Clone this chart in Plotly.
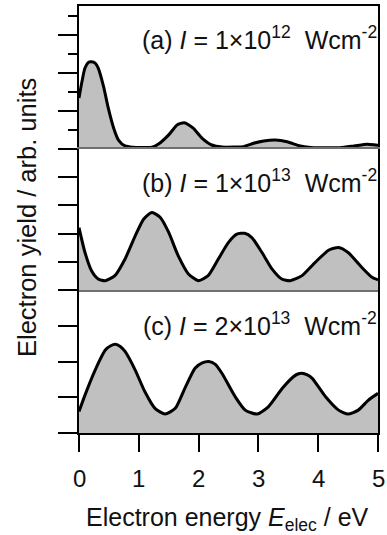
import plotly.graph_objects as go
from plotly.subplots import make_subplots

# ---- data ----
energy_a = [0.0, 0.045, 0.1, 0.16, 0.21, 0.27, 0.32, 0.41, 0.49, 0.58, 0.66, 0.77, 0.9, 1.05, 1.22, 1.33, 1.5, 1.64,
            1.76, 1.91, 2.06, 2.22, 2.39, 2.6, 2.75, 2.92, 3.09, 3.28, 3.48, 3.7, 3.92, 4.15, 4.37, 4.6, 4.82, 4.96, 5.0]
yield_a = [2.67, 3.46, 4.25, 4.55, 4.58, 4.5, 4.25, 3.28, 2.14, 1.09, 0.47, 0.16, 0.09, 0.08, 0.09, 0.26, 0.74, 1.26,
           1.38, 1.09, 0.56, 0.21, 0.1, 0.1, 0.12, 0.3, 0.42, 0.47, 0.38, 0.16, 0.07, 0.06, 0.07, 0.16, 0.25, 0.21, 0.2]

energy_b = [0.0, 0.1, 0.21, 0.32, 0.44, 0.6, 0.77, 0.94, 1.08, 1.22, 1.36, 1.5, 1.66, 1.83, 2.0, 2.16, 2.33,
            2.5, 2.64, 2.77, 2.89, 3.06, 3.23, 3.39, 3.53, 3.73, 3.95, 4.18, 4.34, 4.5, 4.73, 4.9, 5.0]
yield_b = [2.21, 1.33, 0.68, 0.39, 0.33, 0.51, 1.1, 1.92, 2.51, 2.75, 2.57, 2.04, 1.21, 0.57, 0.33, 0.51, 1.1,
           1.69, 1.98, 2.01, 1.86, 1.33, 0.74, 0.39, 0.33, 0.51, 0.98, 1.42, 1.51, 1.33, 0.8, 0.45, 0.36]

energy_c = [0.0, 0.1, 0.27, 0.44, 0.53, 0.61, 0.69, 0.77, 0.94, 1.1, 1.27, 1.44, 1.61, 1.77, 1.94, 2.06, 2.17, 2.28,
            2.39, 2.61, 2.78, 2.98, 3.17, 3.4, 3.59, 3.66, 3.73, 3.81, 3.9, 4.12, 4.34, 4.5, 4.67, 4.84, 5.0]
yield_c = [0.6, 1.06, 1.76, 2.32, 2.44, 2.48, 2.42, 2.28, 1.76, 1.16, 0.69, 0.53, 0.69, 1.25, 1.81, 1.96, 2.0, 1.92,
           1.67, 1.02, 0.64, 0.53, 0.74, 1.25, 1.58, 1.65, 1.67, 1.63, 1.53, 1.02, 0.64, 0.53, 0.64, 0.92, 1.11]

panel_labels = ["(a) <i>I</i> = 1×10<sup>12</sup>  Wcm<sup>-2</sup>",
                "(b) <i>I</i> = 1×10<sup>13</sup>  Wcm<sup>-2</sup>",
                "(c) <i>I</i> = 2×10<sup>13</sup>  Wcm<sup>-2</sup>"]
x_ticks = [0, 1, 2, 3, 4, 5]
x_tick_labels = ["0", "1", "2", "3", "4", "5"]
y_ranges = [[0, 7.5], [0, 5], [0, 4]]
x_title = "Electron energy <i>E</i><sub>elec</sub> / eV"
y_title = "Electron yield / arb. units"

FONT = "Liberation Sans, Arial, sans-serif"
W, H = 387, 535
L, R, T, B = 79, 378, 6, 433
PH = B - T


def py2paper(py):
    return (B - py) / PH


fig = make_subplots(rows=3, cols=1, shared_xaxes=True, vertical_spacing=0)

series = [(energy_a, yield_a), (energy_b, yield_b), (energy_c, yield_c)]
for i, (ex, ey) in enumerate(series):
    fig.add_trace(go.Scatter(x=ex, y=ey, mode="lines",
                             line=dict(color="black", width=3, shape="spline", smoothing=0.6),
                             fill="tozeroy", fillcolor="#c0c0c0", showlegend=False), row=i + 1, col=1)

# domains
bounds = [(T, 149), (149, 290), (290, B)]
for i, (top, bot) in enumerate(bounds):
    yk = "yaxis" if i == 0 else f"yaxis{i+1}"
    fig.layout[yk].domain = [py2paper(bot), py2paper(top)]
    fig.layout[yk].range = y_ranges[i]
    fig.layout[yk].update(showline=True, linecolor="black", linewidth=2, mirror=True,
                          ticks="outside", ticklen=19, tickwidth=2, tickcolor="black", automargin=False,
                          showticklabels=False, showgrid=False, zeroline=False, dtick=1, tick0=0)
fig.layout.yaxis.update(dtick=2, minor=dict(ticks="outside", ticklen=9, tickwidth=2, tickcolor="black",
                                            dtick=1, tick0=0, showgrid=False))

for k in ["xaxis", "xaxis2", "xaxis3"]:
    fig.layout[k].update(range=[0, 5], showgrid=False, zeroline=False, tickvals=x_ticks, automargin=False)
fig.layout.xaxis.update(showline=True, linecolor="black", linewidth=2, side="top", ticks="", showticklabels=False)
fig.layout.xaxis2.update(showline=True, mirror=True, linecolor="#707070", linewidth=1.5, ticks="",
                         showticklabels=False)
fig.layout.xaxis3.update(showline=True, linecolor="black", linewidth=2, ticks="outside", ticklen=17, tickwidth=2,
                         tickcolor="black", showticklabels=False)

annotations = []
# x tick labels placed at the x-axis data positions
for v, t in zip(x_ticks, x_tick_labels):
    annotations.append(dict(text=t, xref="x3", yref="paper", x=v, y=py2paper(479), xanchor="center",
                            yanchor="middle", showarrow=False, font=dict(family=FONT, size=24, color="#111")))
label_tops = [T, 149, 290]
label_offsets = [32.5, 31.5, 33.5]
for lab, top, off in zip(panel_labels, label_tops, label_offsets):
    annotations.append(dict(text=lab, xref="paper", yref="paper", x=1.0 + 1 / (R - L), y=py2paper(top + off),
                            xanchor="right", yanchor="middle", showarrow=False,
                            font=dict(family=FONT, size=25, color="#111")))
annotations.append(dict(text=y_title, xref="paper", yref="paper",
                        x=(27 - L) / (R - L), y=py2paper(218), xanchor="center", yanchor="middle",
                        textangle=-90, showarrow=False, font=dict(family=FONT, size=25.5, color="#111")))
annotations.append(dict(text=x_title, xref="paper", yref="paper",
                        x=((84 + 370) / 2 - L) / (R - L), y=py2paper(519), xanchor="center", yanchor="middle",
                        showarrow=False, font=dict(family=FONT, size=25, color="#111")))

fig.update_layout(width=W, height=H, margin=dict(l=L, r=W - R, t=T, b=H - B, pad=0, autoexpand=False),
                  paper_bgcolor="white", plot_bgcolor="white", annotations=annotations,
                  font=dict(family=FONT))

fig.write_html("out.html")
